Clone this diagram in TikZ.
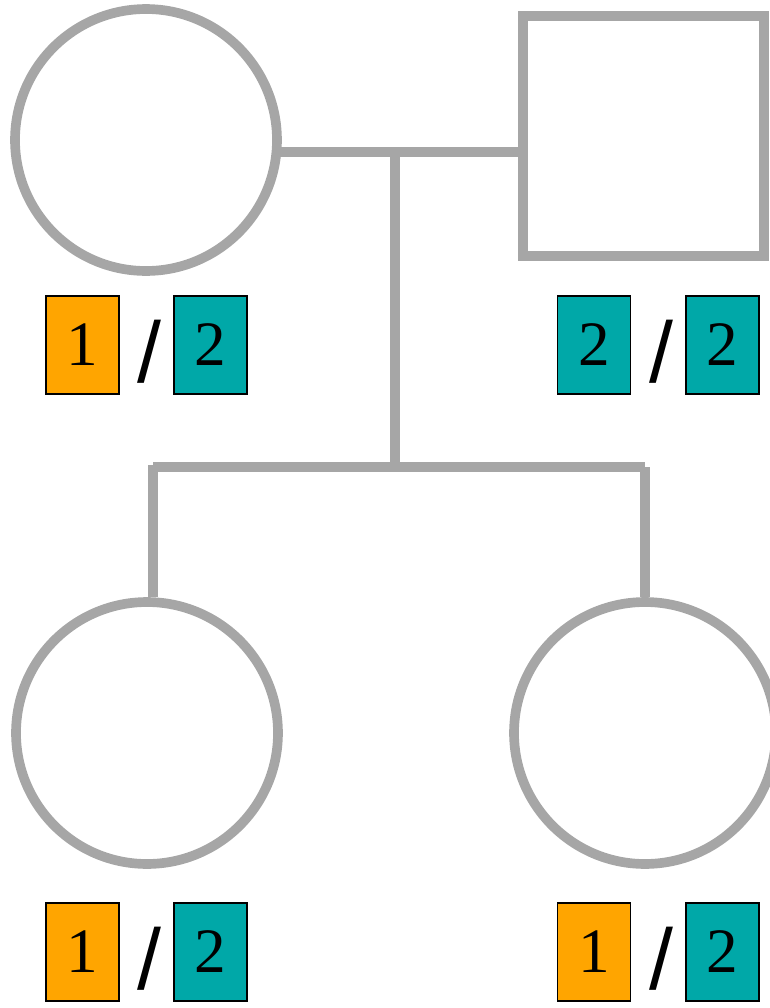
\documentclass[tikz,border=0pt]{standalone}
\usepackage{fontspec}
\setmainfont{Liberation Serif}
\newfontfamily\slashfont{Liberation Sans}
\usepackage{tikz}
\usetikzlibrary{positioning}

\definecolor{pedgrey}{HTML}{A6A6A6}
\definecolor{alleleone}{HTML}{FFA500}
\definecolor{alleletwo}{HTML}{00A8A8}

\tikzset{
  pedline/.style={draw=pedgrey, line width=5.5pt},
  female/.style={shape=circle, pedline, minimum size=5.24cm, inner sep=0pt},
  male/.style={shape=rectangle, pedline, minimum width=4.82cm, minimum height=4.8cm, inner sep=0pt},
  allele/.style={shape=rectangle, draw=black, line width=0.8pt, minimum width=1.46cm,
    minimum height=1.96cm, inner sep=0pt, font=\fontsize{36}{36}\selectfont},
  sep/.style={inner sep=0pt, font=\slashfont\fontsize{49}{49}\selectfont}
}

\begin{document}
\begin{tikzpicture}[x=0.02cm, y=-0.02cm]
      \useasboundingbox (0,0) rectangle (769,1008);

      % parents and children
      \node[female] (mother) at (146,140) {};
      \node[male] (father) at (643.5,136) {};
      \node[female] (kid1) at (147,733) {};
      \node[female] (kid2) at (645,733) {};

      \coordinate (mate) at (395,152);
      \coordinate (sib) at (395,467);
      \coordinate (drop1) at ([xshift=0.12cm]kid1.north |- sib);

      \draw[pedline] (mother.-5) -- (mother.-5 -| father.west) -- ++(7,0);
      \draw[pedline] (mate) -- (sib);
      \draw[pedline] (drop1) -- (kid2.north |- sib);
      \draw[pedline] ([yshift=0.05cm]drop1) -- ([xshift=0.12cm]kid1.north);
      \draw[pedline] (kid2.north |- sib) -- (kid2.north);

      % genotypes
      \node[allele, fill=alleleone] (m1) at (82.5,345) {1};
      \node[sep] (ms) at (149,352) {/};
      \node[allele, fill=alleletwo] (m2) at (210.5,345) {2};

      \node[allele, fill=alleletwo] (f1) at (594,345) {2};
      \node[sep] (fs) at (661,352) {/};
      \node[allele, fill=alleletwo] (f2) at (722.5,345) {2};

      \node[allele, fill=alleleone] (k11) at (82.5,952) {1};
      \node[sep] (k1s) at (149,959) {/};
      \node[allele, fill=alleletwo] (k12) at (210.5,952) {2};

      \node[allele, fill=alleleone] (k21) at (594,952) {1};
      \node[sep] (k2s) at (661,959) {/};
      \node[allele, fill=alleletwo] (k22) at (722.5,952) {2};
    \end{tikzpicture}
\end{document}
